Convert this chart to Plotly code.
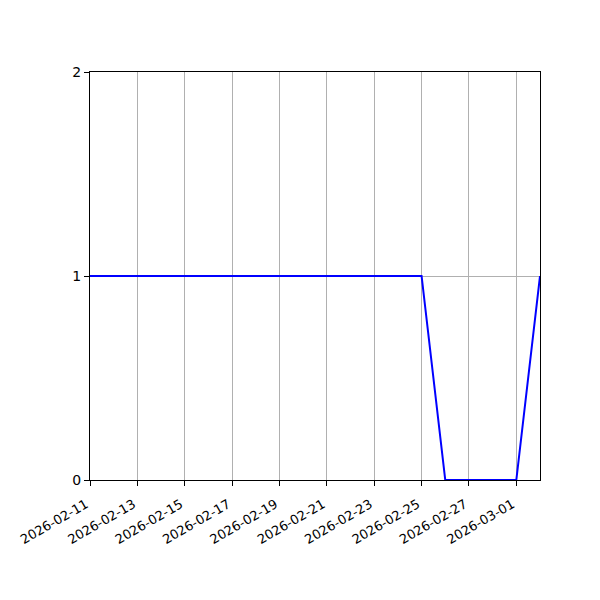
import plotly.graph_objects as go

dates = ["2026-02-11", "2026-02-12", "2026-02-13", "2026-02-14", "2026-02-15",
         "2026-02-16", "2026-02-17", "2026-02-18", "2026-02-19", "2026-02-20",
         "2026-02-21", "2026-02-22", "2026-02-23", "2026-02-24", "2026-02-25",
         "2026-02-26", "2026-02-27", "2026-02-28", "2026-03-01", "2026-03-02"]
values = [1, 1, 1, 1, 1, 1, 1, 1, 1, 1, 1, 1, 1, 1, 1, 0, 0, 0, 0, 1]
y_ticks = [0, 1, 2]

fig = go.Figure()
fig.add_trace(go.Scatter(
    x=dates, y=values, mode="lines",
    line=dict(color="#0000ff", width=2),
    showlegend=False,
))

axis_style = dict(
    showline=True, linecolor="black", linewidth=1, mirror=True,
    ticks="outside", ticklen=5, tickcolor="black", tickwidth=1,
    showgrid=True, gridcolor="#b0b0b0", gridwidth=1,
    zeroline=False, automargin=False,
)

fig.update_xaxes(
    type="date", range=[dates[0], dates[-1]],
    dtick=2 * 86400000, tick0=dates[0], tickformat="%Y-%m-%d",
    tickangle=-30, ticklabelshift=-4, ticklabelstandoff=6,
    tickfont=dict(family="DejaVu Sans", size=13, color="black"),
    **axis_style,
)
fig.update_yaxes(
    range=[0, 2], tickvals=y_ticks,
    tickfont=dict(family="DejaVu Sans", size=14, color="black"),
    **axis_style,
)

# page body adds 8px offset, so margins are shifted by that
fig.update_layout(
    width=600, height=600,
    margin=dict(l=82, r=68, t=64, b=128),
    plot_bgcolor="white", paper_bgcolor="white",
    font=dict(family="DejaVu Sans", size=14, color="black"),
)

fig.write_html("out.html")
